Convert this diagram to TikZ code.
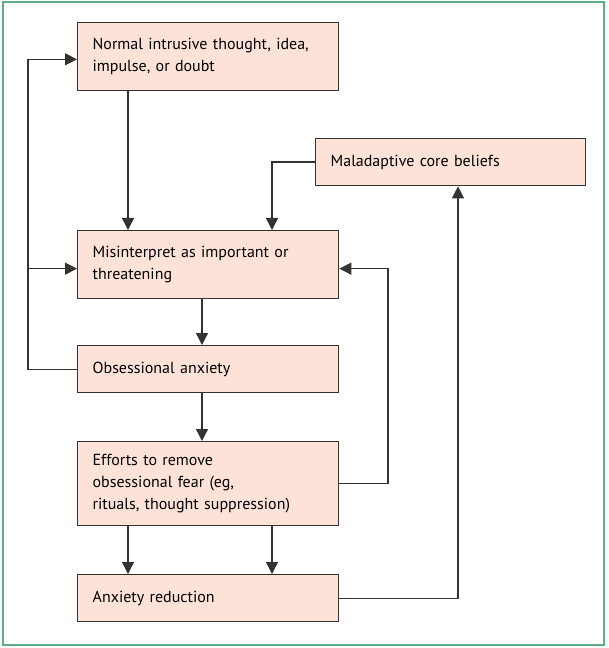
\documentclass[tikz,border=0pt]{standalone}
\usepackage{fontspec}
\setmainfont{PT Sans}
\usetikzlibrary{arrows.meta}
\definecolor{boxfill}{HTML}{FDE2D8}
\definecolor{linegray}{HTML}{333333}
\definecolor{framegreen}{HTML}{5DAE86}
\tikzset{
  stage/.style = {rectangle, draw=linegray, fill=boxfill, line width=1pt,
    anchor=north west, align=left, inner xsep=11.25pt, inner ysep=0pt,
    text width=173.25pt, font=\fontsize{12}{16.3}\selectfont},% box of the cycle
  stagewide/.style = {stage, text width=180pt},% core beliefs box
  flow/.style = {draw=linegray, line width=1pt}% connector
}
\begin{document}
\begin{tikzpicture}[x=0.75pt, y=-0.75pt, ->, >={Triangle[length=9pt,width=9pt]}]
\useasboundingbox (0,0) rectangle (608,648);
\draw[-, framegreen, line width=1.2pt] (3,2) rectangle (604,645);

\node[stage, minimum height=51pt] (normal) at (77,22)
  {Normal intrusive thought, idea,\\impulse, or doubt};
\node[stagewide, minimum height=35.25pt] (beliefs) at (315,138)
  {Maladaptive core beliefs};
\node[stage, minimum height=51pt] (misinterp) at (77,230)
  {Misinterpret as important or\\threatening};
\node[stage, minimum height=35.25pt] (anxiety) at (77,345)
  {Obsessional anxiety};
\node[stage, minimum height=63pt] (efforts) at (77,441)
  {Efforts to remove\\obsessional fear (eg,\\rituals, thought suppression)};
\node[stage, minimum height=35.25pt] (reduction) at (77,574)
  {Anxiety reduction};

% columns of the connectors
\coordinate (lcol) at (128,0);
\coordinate (mcol) at (202,0);
\coordinate (rcol) at (272,0);
\coordinate (loopl) at (28,0);
\coordinate (loopr) at (388,0);
\coordinate (upcol) at (458,0);
\coordinate (normin) at ([yshift=-2pt]normal.west);
\coordinate (misin) at ([yshift=-3pt]misinterp.west);
\coordinate (misback) at ([yshift=-3pt]misinterp.east);

\draw[flow] (normal.south -| lcol) -- (misinterp.north -| lcol);
\draw[flow] (beliefs.west) -| (misinterp.north -| rcol);
\draw[flow] (misinterp.south -| mcol) -- (anxiety.north -| mcol);
\draw[flow] (anxiety.south -| mcol) -- (efforts.north -| mcol);
\draw[flow] (efforts.south -| lcol) -- (reduction.north -| lcol);
\draw[flow] (efforts.south -| rcol) -- (reduction.north -| rcol);
\draw[flow] (anxiety.west) -| (normin -| loopl) -- (normin);
\draw[flow] (misin -| loopl) -- (misin);
\draw[flow] (efforts.east) -| (misback -| loopr) -- (misback);
\draw[flow] (reduction.east) -| (beliefs.south -| upcol);
\end{tikzpicture}
\end{document}
